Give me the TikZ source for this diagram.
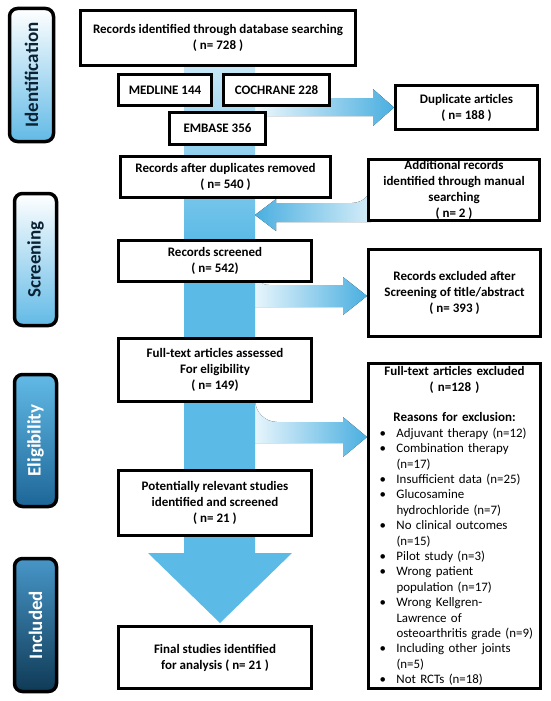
\documentclass[tikz,border=0pt]{standalone}
\usepackage{fontspec}
\setmainfont{Carlito}
\usepackage{graphicx}
\usetikzlibrary{positioning,calc,backgrounds}
\definecolor{pr-band}{HTML}{5BBAE6}
\definecolor{pr-bandtop}{HTML}{C6E7F7}
\definecolor{pr-arrow}{HTML}{4AAFE0}
\definecolor{pr-pale}{HTML}{EEF8FD}
\definecolor{pr-ink}{HTML}{0B2235}
\definecolor{pr-light}{HTML}{62BAE6}
\definecolor{pr-mid}{HTML}{1D6697}
\definecolor{pr-inclt}{HTML}{4796C8}
\definecolor{pr-deep}{HTML}{0F3A56}
\newcommand{\reason}[1]{\makebox[150pt][l]{\mdseries\fontsize{12.9}{15.4}\selectfont\makebox[17pt][l]{\textbullet}#1}}
\newcommand{\reasoncont}[1]{\makebox[150pt][l]{\mdseries\fontsize{12.9}{15.4}\selectfont\hspace{17pt}#1}}

\begin{document}
\begin{tikzpicture}[x=1pt, y=-1pt]

  % Styles for boxes, phase tabs and block arrows
  \tikzset{
    box/.style={draw=black, line width=3pt, fill=white, align=center, inner sep=0pt, font=\fontsize{13}{16}\selectfont\bfseries},
    phase/.style={draw=black, line width=3.5pt, rounded corners=8pt, minimum width=42pt, minimum height=132pt, inner sep=0pt, font=\fontsize{19}{23}\selectfont\bfseries},
    outflow/.style={left color=pr-pale, right color=pr-arrow},
    inflow/.style={left color=pr-arrow, right color=pr-pale}
  }
  \useasboundingbox (0,0) rectangle (550,701);

  % Phase tabs
  \node (ident)  [phase, minimum width=44pt, minimum height=133pt, top color=white, bottom color=pr-light, text=pr-ink] at (31.5,75) {\rotatebox{90}{Identification}};
  \node (screen) [phase, top color=white, bottom color=pr-light, text=pr-ink] at (35.5,259.5) {\rotatebox{90}{Screening}};
  \node (elig)   [phase, top color=pr-light, bottom color=pr-mid, text=white] at (35.5,440.5) {\rotatebox{90}{Eligibility}};
  \node (incl)   [phase, minimum height=133pt, top color=pr-inclt, bottom color=pr-deep, text=white] at (35.5,625) {\rotatebox{90}{Included}};

  % Main column
  \node (records)  [box, minimum width=275pt, minimum height=55pt] at (218,38) {Records identified through database searching\\( n= 728 )};
  \node (medline)  [box, minimum width=93pt, minimum height=31pt] at (165,90) {MEDLINE 144};
  \node (cochrane) [box, minimum width=106pt, minimum height=31pt, right=9pt of medline] {COCHRANE 228};
  \node (embase)   [box, minimum width=96pt, minimum height=32pt] at (217.5,128.5) {EMBASE 356};
  \node (afterdup) [box, minimum width=210pt, minimum height=41pt] at (225.5,177) {Records after duplicates removed\\( n= 540 )};
  \node (screened) [box, minimum width=193pt, minimum height=41pt] at (215,261) {Records screened\\( n= 542)};
  \node (fulltext) [box, minimum width=193pt, minimum height=63pt] at (215,370) {Full-text articles assessed\\For eligibility\\( n= 149)};
  \node (relevant) [box, minimum width=193pt, minimum height=65pt] at (215,503) {Potentially relevant studies\\identified and screened\\( n= 21 )};
  \node (final)    [box, minimum width=193pt, minimum height=62pt] at (215,657.5) {Final studies identified\\for analysis ( n= 21 )};

  % Side column
  \node (duplicate) [box, minimum width=142pt, minimum height=44pt] at (466.5,107.5) {Duplicate articles\\( n= 188 )};
  \node (manual)    [box, minimum width=171pt, minimum height=61pt] at (454,190) {Additional records\\identified through manual\\searching\\( n= 2 )};
  \node (excltitle) [box, minimum width=172pt, minimum height=87pt] at (454.5,293) {Records excluded after\\Screening of title/abstract\\( n= 393 )};
  \node (exclfull)  [box, text width=166pt, inner xsep=3pt, minimum height=325pt, font=\fontsize{13}{15.4}\selectfont\bfseries] at (454.5,526)
    {Full-text articles excluded\\( n=128 )\\[15.4pt]Reasons for exclusion:\\
     \reason{Adjuvant therapy (n=12)}\\
     \reason{Combination therapy}\\
     \reasoncont{(n=17)}\\
     \reason{Insufficient data (n=25)}\\
     \reason{Glucosamine}\\
     \reasoncont{hydrochloride (n=7)}\\
     \reason{No clinical outcomes}\\
     \reasoncont{(n=15)}\\
     \reason{Pilot study (n=3)}\\
     \reason{Wrong patient}\\
     \reasoncont{population (n=17)}\\
     \reason{Wrong Kellgren-}\\
     \reasoncont{Lawrence of}\\
     \reasoncont{osteoarthritis grade (n=9)}\\
     \reason{Including other joints}\\
     \reasoncont{(n=5)}\\
     \reason{Not RCTs (n=18)}};

  \begin{scope}[on background layer]
    % Block arrows out of / into the main flow
    \fill[outflow] (255,98) -- (373,98) -- (373,89) -- (duplicate.west) -- (373,126) -- (373,116) -- (255,116) -- cycle;
    \fill[inflow] (255,215) -- (276,199) -- (276,203) -- (352,203) .. controls (363,203) and (372,194) .. (372,183) -- (372,170)
      -- (391,170) -- (391,202) .. controls (391,213) and (382,222) .. (371,222) -- (276,222) -- (276,231) -- cycle;
    \fill[outflow] (250,262) -- (255,262) -- (255,271) .. controls (255,279) and (261,285) .. (269,285) -- (343,285) -- (343,277)
      -- ($(excltitle.west)+(0,3)$) -- (343,315) -- (343,307) -- (250,307) -- cycle;
    \fill[outflow] (250,395) -- (255,395) -- (255,400) .. controls (255,412) and (265,422) .. (277,422) -- (343,422) -- (343,417)
      -- (367,437) -- (343,457) -- (343,443) -- (250,443) -- cycle;

    % Wide downward flow band with its head
    \fill[top color=pr-bandtop, bottom color=pr-band] (184,67) rectangle (255,240);
    \fill[pr-band] (184,239) -- (255,239) -- (255,553) -- (292,553) -- (220,623) -- (148,553) -- (184,553) -- cycle;
  \end{scope}

\end{tikzpicture}
\end{document}
